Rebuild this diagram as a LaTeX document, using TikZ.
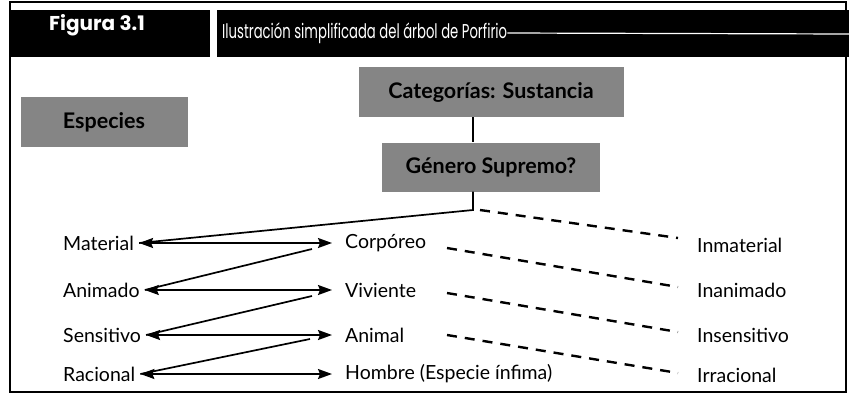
\documentclass[tikz,border=0pt]{standalone}
\usepackage{fontspec}
\setmainfont{Lato}
\newfontfamily\headfont{Poppins}
\newfontfamily\titlefont[FakeStretch=0.66]{Poppins}
\usetikzlibrary{arrows.meta,calc}

\begin{document}
\begin{tikzpicture}[x=1pt,y=-1pt,
        term/.style={anchor=west,inner sep=2pt,font=\fontsize{19.5}{22}\selectfont},
        grisbox/.style={fill=black!48,inner sep=0pt,minimum height=50pt,font=\fontsize{21.5}{24}\selectfont\bfseries},
        flecha/.style={line width=1.7pt,{Stealth[length=14pt,width=10pt,inset=2pt]}-{Stealth[length=14pt,width=10pt,inset=2pt]},shorten <=3pt,shorten >=11pt},
        linea/.style={line width=1.7pt},
        rayas/.style={line width=2.4pt,dash pattern=on 10pt off 8pt}]
        \useasboundingbox (0,0) rectangle (849,400);
        \draw [line width=1.4pt] (10,2) rectangle (846,392);
        \fill (10,10) rectangle (210,57);
        \fill (217,10) rectangle (849,57);
        \node [text=white,font=\headfont\fontsize{20}{22}\selectfont\bfseries] (fig) at (97,25) {Figura 3.1};
        \node [text=white,anchor=west,inner sep=0pt,font=\titlefont\fontsize{20}{22}\selectfont] (titulo) at (222,33) {Ilustración simplificada del árbol de Porfirio};
        \draw [white,line width=1.2pt] (titulo.east) -- (849,34);

        \node [grisbox,minimum width=167pt] (esp) at (104,122) {Especies};
        \node [grisbox,minimum width=265pt] (cat) at (491,92) {Categorías: Sustancia};
        \node [grisbox,minimum width=218pt,minimum height=49pt] (gen) at (491,167) {Género Supremo?};
        \coordinate (fork) at (473,210);

        \node [term] (mat) at (61,243) {Material};
        \node [term] (anim) at (61,290) {Animado};
        \node [term] (sens) at (61,335) {Sensitivo};
        \node [term] (rac) at (61,374) {Racional};
        \node [term] (corp) at (343,243) {Corpóreo};
        \node [term] (viv) at (343,290) {Viviente};
        \node [term] (animal) at (343,335) {Animal};
        \node [term] (hom) at (343,374) {Hombre (Especie ínfima)};
        \node [term] (inmat) at (695,245) {Inmaterial};
        \node [term] (inan) at (695,290) {Inanimado};
        \node [term] (insen) at (695,335) {Insensitivo};
        \node [term] (irrac) at (695,375) {Irracional};

        \draw [linea] (cat.south -| fork) -- (gen.north -| fork);
        \draw [linea] (gen.south -| fork) -- (fork) -- ($(mat.east)+(3,0)$);
        \draw [flecha] (mat) -- (corp);
        \draw [flecha] (anim) -- (viv);
        \draw [flecha] (sens) -- (animal);
        \draw [flecha] (rac) -- (hom);
        \draw [linea] ($(corp.west)+(-31,6)$) -- ($(anim.east)+(3,0)$);
        \draw [linea] ($(viv.west)+(-31,6)$) -- ($(sens.east)+(3,0)$);
        \draw [linea] ($(animal.west)+(-33,4)$) -- ($(rac.east)+(3,0)$);

        \draw [rayas] ($(fork)+(7,0)$) -- ($(inmat.west)+(-17,-7)$);
        \draw [rayas] ($(corp.west)+(104,5)$) -- ($(inan.west)+(-17,-3)$);
        \draw [rayas] ($(viv.west)+(104,3)$) -- ($(insen.west)+(-17,-3)$);
        \draw [rayas] ($(animal.west)+(104,0)$) -- ($(irrac.west)+(-17,-2)$);
\end{tikzpicture}
\end{document}
